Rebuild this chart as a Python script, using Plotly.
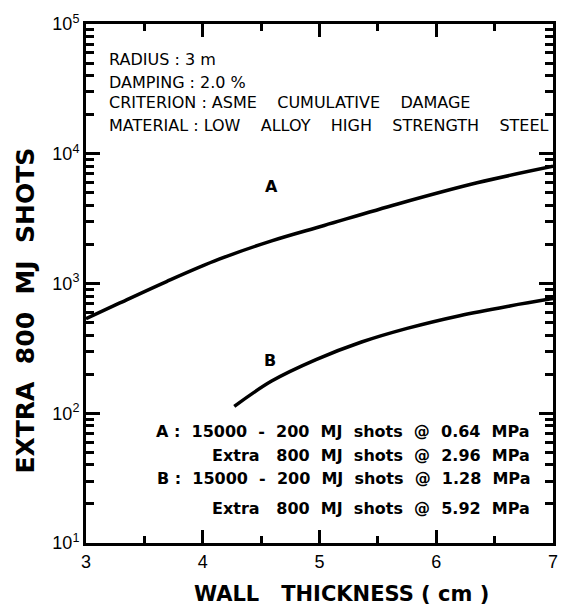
import plotly.graph_objects as go

# Curve A: 15000-200 MJ shots @ 0.64 MPa, extra 800 MJ @ 2.96 MPa
thick_A = [3.0, 3.29, 3.69, 4.14, 4.59, 5.04, 5.67, 6.35, 7.0]
shots_A = [535, 708, 1035, 1538, 2130, 2800, 4100, 5970, 8000]
# Curve B: 15000-200 MJ shots @ 1.28 MPa, extra 800 MJ @ 5.92 MPa
thick_B = [4.27, 4.59, 4.97, 5.36, 5.75, 6.20, 6.63, 7.0]
shots_B = [113, 177, 259, 354, 451, 565, 671, 765]

x_ticks = [3, 4, 5, 6, 7]
y_ticks = [10, 100, 1000, 10000, 100000]
y_ticktext = ["10<sup>1</sup>", "10<sup>2</sup>", "10<sup>3</sup>", "10<sup>4</sup>", "10<sup>5</sup>"]
y_minor = [m * 10 ** k for k in range(1, 5) for m in range(2, 10)]
x_minor = [3.5, 4.5, 5.5, 6.5]

S = "\u00a0"
G = S * 4
info_lines = ["RADIUS" + S + ":" + S + "3" + S + "m",
              "DAMPING" + S + ":" + S + "2.0" + S + "%",
              "CRITERION" + S + ":" + S + "ASME" + G + "CUMULATIVE" + G + "DAMAGE",
              "MATERIAL" + S + ":" + S + "LOW" + G + "ALLOY" + G + "HIGH" + G + "STRENGTH" + G + "STEEL"]
g = S * 2
case_lines = ["A" + S + ":" + g + "15000" + g + "-" + g + "200" + g + "MJ" + g + "shots" + g + "@" + g + "0.64" + g + "MPa",
              "Extra" + S * 3 + "800" + g + "MJ" + g + "shots" + g + "@" + g + "2.96" + g + "MPa",
              "B" + S + ":" + g + "15000" + g + "-" + g + "200" + g + "MJ" + g + "shots" + g + "@" + g + "1.28" + g + "MPa",
              "Extra" + S * 3 + "800" + g + "MJ" + g + "shots" + g + "@" + g + "5.92" + g + "MPa"]
x_title = "WALL" + S * 3 + "THICKNESS" + S + "(" + S + "cm" + S + ")"
y_title = "EXTRA" + S * 2 + "800" + S * 2 + "MJ" + S * 2 + "SHOTS"

FONT = "Liberation Sans"
TFONT = "DejaVu Sans"
TICKC = "black"
fig = go.Figure()
fig.add_trace(go.Scatter(x=thick_A, y=shots_A, mode="lines", line=dict(color="black", width=3.5, shape="spline"),
                         showlegend=False, hoverinfo="skip"))
fig.add_trace(go.Scatter(x=thick_B, y=shots_B, mode="lines", line=dict(color="black", width=3.5, shape="spline"),
                         showlegend=False, hoverinfo="skip"))

axis_common = dict(showgrid=False, zeroline=False, showline=True, linecolor="black", linewidth=3,
                   mirror="allticks", ticks="inside", tickcolor=TICKC, tickwidth=2.5,
                   tickfont=dict(family=FONT, size=18, color="black"))
fig.update_layout(
    xaxis=dict(range=[3, 7], tickvals=x_ticks, ticktext=[str(v) for v in x_ticks], ticklen=13,
               minor=dict(tickvals=x_minor, ticks="inside", ticklen=7, tickwidth=2.5, tickcolor=TICKC),
               **axis_common),
    yaxis=dict(type="log", range=[1, 5], tickvals=y_ticks, ticktext=y_ticktext, ticklen=14,
               minor=dict(tickvals=y_minor, ticks="inside", ticklen=8, tickwidth=2.5, tickcolor=TICKC),
               **axis_common),
)

for i, t in enumerate(info_lines):
    fig.add_annotation(x=0.045, y=[0.932, 0.888, 0.848, 0.805][i], xref="paper", yref="paper",
                       text=t, showarrow=False, xanchor="left", yanchor="middle",
                       font=dict(family=TFONT, size=16, color="black"))
for i, t in enumerate(case_lines):
    fig.add_annotation(x=0.955, y=[0.214, 0.168, 0.124, 0.067][i], xref="paper", yref="paper",
                       text="<b>" + t + "</b>", showarrow=False, xanchor="right", yanchor="middle",
                       font=dict(family=TFONT, size=16, color="black"))

fig.add_annotation(x=4.59, y=3.75, text="<b>A</b>", showarrow=False, font=dict(family=TFONT, size=16, color="black"))
fig.add_annotation(x=4.58, y=2.41, text="<b>B</b>", showarrow=False, font=dict(family=TFONT, size=16, color="black"))

# axis titles
fig.add_annotation(x=(193 - 86) / 471, y=-(595 - 543) / 528, xref="paper", yref="paper", text="<b>" + x_title + "</b>",
                   showarrow=False, xanchor="left", yanchor="middle", font=dict(family=TFONT, size=21, color="black"))
fig.add_annotation(x=-(86 - 25) / 471, y=(543 - 307) / 528, xref="paper", yref="paper", text="<b>" + y_title + "</b>",
                   showarrow=False, textangle=-90, xanchor="center", yanchor="middle",
                   font=dict(family=TFONT, size=25, color="black"))

fig.update_layout(width=570, height=612, margin=dict(l=86, r=13, t=15, b=69),
                  paper_bgcolor="white", plot_bgcolor="white")
fig.write_html("out.html")
